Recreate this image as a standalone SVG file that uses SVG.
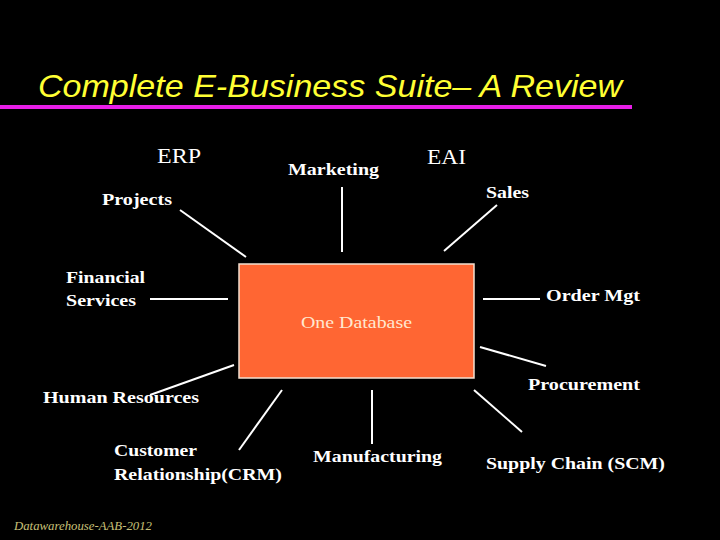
<svg xmlns="http://www.w3.org/2000/svg" width="720" height="540" viewBox="0 0 720 540">
<style>
.b{font-family:"Liberation Serif","Times New Roman",serif;font-weight:bold;font-size:17px;fill:#ffffff}
.r{font-family:"Liberation Serif","Times New Roman",serif;font-size:22px;fill:#ffffff}
.ln{stroke:#ffffff;stroke-width:2;fill:none}
</style>
<rect x="0" y="0" width="720" height="540" fill="#000000"/>
<g id="title">
<text x="38" y="97" font-family="Liberation Sans, Arial, sans-serif" font-style="italic" font-size="32" fill="#ffff33" textLength="584" lengthAdjust="spacingAndGlyphs">Complete E-Business Suite– A Review</text>
<rect x="0" y="105" width="632" height="4" fill="#e81ee8"/>
</g>
<g id="connectors">
<line class="ln" x1="180" y1="210" x2="246" y2="257"/>
<line class="ln" x1="342" y1="187" x2="342" y2="252"/>
<line class="ln" x1="497" y1="205" x2="444" y2="251"/>
<line class="ln" x1="150" y1="299" x2="228" y2="299"/>
<line class="ln" x1="483" y1="299" x2="540" y2="299"/>
<line class="ln" x1="480" y1="347" x2="546" y2="366"/>
<line class="ln" x1="150" y1="395" x2="234" y2="365"/>
<line class="ln" x1="282" y1="390" x2="239" y2="450"/>
<line class="ln" x1="372" y1="390" x2="372" y2="444"/>
<line class="ln" x1="474" y1="390" x2="522" y2="432"/>
</g>
<g id="erp"><text class="r" x="157" y="163" textLength="44" lengthAdjust="spacingAndGlyphs">ERP</text></g>
<g id="eai"><text class="r" x="427" y="164" textLength="39" lengthAdjust="spacingAndGlyphs">EAI</text></g>
<g id="database">
<rect x="239" y="264" width="235" height="114" fill="#ff6633" stroke="#f4e0d0" stroke-width="1.5"/>
<text x="301" y="328" font-family="Liberation Serif, Times New Roman, serif" font-size="17" fill="#ffe8d0" textLength="111" lengthAdjust="spacingAndGlyphs">One Database</text>
</g>
<g id="marketing"><text class="b" x="288" y="175" textLength="91" lengthAdjust="spacingAndGlyphs">Marketing</text></g>
<g id="projects"><text class="b" x="102" y="205" textLength="70" lengthAdjust="spacingAndGlyphs">Projects</text></g>
<g id="sales"><text class="b" x="486" y="198" textLength="43" lengthAdjust="spacingAndGlyphs">Sales</text></g>
<g id="financial">
<text class="b" x="66" y="283" textLength="79" lengthAdjust="spacingAndGlyphs">Financial</text>
<text class="b" x="66" y="306" textLength="70" lengthAdjust="spacingAndGlyphs">Services</text>
</g>
<g id="order"><text class="b" x="546" y="301" textLength="94" lengthAdjust="spacingAndGlyphs">Order Mgt</text></g>
<g id="procurement"><text class="b" x="528" y="390" textLength="112" lengthAdjust="spacingAndGlyphs">Procurement</text></g>
<g id="hr"><text class="b" x="43" y="403" textLength="156" lengthAdjust="spacingAndGlyphs">Human Resources</text></g>
<g id="crm">
<text class="b" x="114" y="456" textLength="83" lengthAdjust="spacingAndGlyphs">Customer</text>
<text class="b" x="114" y="480" textLength="168" lengthAdjust="spacingAndGlyphs">Relationship(CRM)</text>
</g>
<g id="manufacturing"><text class="b" x="313" y="462" textLength="129" lengthAdjust="spacingAndGlyphs">Manufacturing</text></g>
<g id="scm"><text class="b" x="486" y="469" textLength="179" lengthAdjust="spacingAndGlyphs">Supply Chain (SCM)</text></g>
<g id="footer"><text x="14" y="530" font-family="Liberation Serif, Times New Roman, serif" font-style="italic" font-size="13" fill="#c8c078" textLength="138" lengthAdjust="spacingAndGlyphs">Datawarehouse-AAB-2012</text></g>
</svg>
